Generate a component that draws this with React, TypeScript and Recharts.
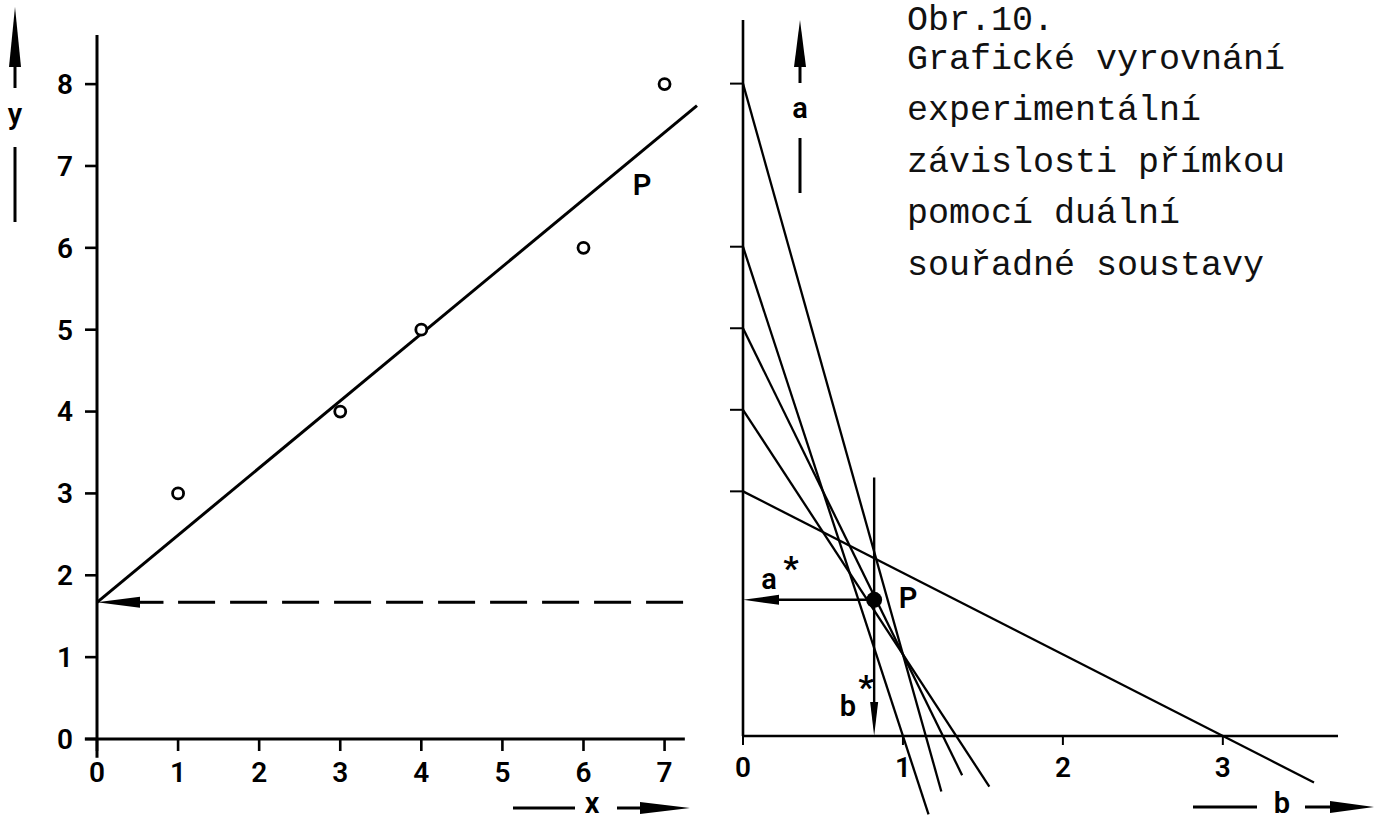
import React from 'react';
import { ComposedChart, XAxis, YAxis, Scatter, ReferenceLine } from 'recharts';

// measured points (x, y)
const obsX = [1, 3, 4, 6, 7];
const obsY = [3, 4, 5, 6, 8];

const xTicks = [0, 1, 2, 3, 4, 5, 6, 7];
const yTicks = [0, 1, 2, 3, 4, 5, 6, 7, 8];
const bTicks = [0, 1, 2, 3];

// graphical solution: intersection P in the dual plane
const aStar = 1.67;
const bStar = 0.82;
const bGuideTop = 3.17;
const fitEndX = 7.4;

// where each dual line a = y - x*b stops below the b axis (same order as the points)
const dualEndB = [3.57, 1.54, 1.37, 1.16, 1.24];

const titleLines = [
  'Obr.10.',
  'Grafické vyrovnání',
  'experimentální',
  'závislosti přímkou',
  'pomocí duální',
  'souřadné soustavy',
];

const points = obsX.map((x, i) => ({ x, y: obsY[i] }));
const solution = [{ b: bStar, a: aStar }];

const SANS = 'Roboto, "DejaVu Sans", sans-serif';
const MONO = '"Liberation Mono", "DejaVu Sans Mono", monospace';
const INK = '#000';

const tickText = { fill: INK, fontSize: 28, fontFamily: SANS, fontWeight: 600 };

const OpenRing = (props: any) => (
  <circle cx={props.cx} cy={props.cy} r={5.5} fill="#fff" stroke={INK} strokeWidth={2.8} />
);

const SolidDot = (props: any) => <circle cx={props.cx} cy={props.cy} r={8} fill={INK} />;

// line with a filled arrowhead at its second end point
const arrowLine = (head: number, width: number, sw: number) => (props: any) => {
  const { x1, y1, x2, y2 } = props;
  const dx = x2 - x1;
  const dy = y2 - y1;
  const len = Math.hypot(dx, dy) || 1;
  const ux = dx / len;
  const uy = dy / len;
  const bx = x2 - ux * head;
  const by = y2 - uy * head;
  const px = (-uy * width) / 2;
  const py = (ux * width) / 2;
  return (
    <g>
      <line x1={x1} y1={y1} x2={bx} y2={by} stroke={INK} strokeWidth={sw} />
      <polygon points={`${x2},${y2} ${bx + px},${by + py} ${bx - px},${by - py}`} fill={INK} />
    </g>
  );
};

const LeftPanel = () => (
  <ComposedChart width={720} height={823} margin={{ top: 35, right: 23, bottom: 54, left: 37 }} data={points}>
    <XAxis
      type="number"
      dataKey="x"
      domain={[0, fitEndX]}
      ticks={xTicks}
      interval={0}
      height={30}
      axisLine={false}
      tickSize={12}
      tickMargin={11}
      tickLine={{ stroke: INK, strokeWidth: 2.6 }}
      tick={tickText}
    />
    <YAxis
      type="number"
      dataKey="y"
      domain={[0, 8.6]}
      ticks={yTicks}
      interval={0}
      width={60}
      axisLine={false}
      tickSize={12}
      tickMargin={12}
      tickLine={{ stroke: INK, strokeWidth: 2.6 }}
      tick={tickText}
    />
    {/* axes, drawn a little past the origin */}
    <ReferenceLine segment={[{ x: -0.15, y: 0 }, { x: 7.25, y: 0 }]} ifOverflow="visible" stroke={INK} strokeWidth={3} />
    <ReferenceLine segment={[{ x: 0, y: -0.23 }, { x: 0, y: 8.6 }]} ifOverflow="visible" stroke={INK} strokeWidth={3} />
    {/* fitted line y = a* + b* x */}
    <ReferenceLine
      segment={[{ x: 0, y: aStar }, { x: fitEndX, y: aStar + bStar * fitEndX }]}
      ifOverflow="visible"
      stroke={INK}
      strokeWidth={3}
    />
    {/* intercept read back onto the y axis */}
    <ReferenceLine
      segment={[{ x: 1.0, y: aStar }, { x: 7.25, y: aStar }]}
      ifOverflow="visible"
      stroke={INK}
      strokeWidth={3}
      strokeDasharray="37 15"
    />
    <ReferenceLine
      segment={[{ x: 0.82, y: aStar }, { x: 0, y: aStar }]}
      ifOverflow="visible"
      shape={arrowLine(43, 11, 3)}
    />
    <Scatter data={points} dataKey="y" shape={OpenRing} isAnimationActive={false} />
  </ComposedChart>
);

const RightPanel = () => (
  <ComposedChart width={685} height={823} margin={{ top: 20, right: 47, bottom: 57, left: 13 }}>
    <XAxis
      type="number"
      dataKey="b"
      domain={[0, 3.72]}
      ticks={bTicks}
      interval={0}
      height={30}
      axisLine={{ stroke: INK, strokeWidth: 2.6 }}
      tickSize={9}
      tickMargin={12}
      tickLine={{ stroke: INK, strokeWidth: 2 }}
      tick={tickText}
    />
    <YAxis
      type="number"
      dataKey="a"
      domain={[0, 8.78]}
      ticks={obsY}
      interval={0}
      width={30}
      axisLine={{ stroke: INK, strokeWidth: 2.6 }}
      tickSize={13}
      tickLine={{ stroke: INK, strokeWidth: 2 }}
      tickFormatter={() => ''}
    />
    {/* one dual line a = y - x*b per measured point */}
    {obsX.map((x, i) => (
      <ReferenceLine
        key={i}
        segment={[{ x: 0, y: obsY[i] }, { x: dualEndB[i], y: obsY[i] - x * dualEndB[i] }]}
        ifOverflow="visible"
        stroke={INK}
        strokeWidth={2.3}
      />
    ))}
    <ReferenceLine
      segment={[{ x: bStar, y: bGuideTop }, { x: bStar, y: 0 }]}
      ifOverflow="visible"
      shape={arrowLine(34, 8, 2.4)}
    />
    <ReferenceLine
      segment={[{ x: bStar, y: aStar }, { x: 0, y: aStar }]}
      ifOverflow="visible"
      shape={arrowLine(36, 10, 2.4)}
    />
    <Scatter data={solution} dataKey="a" shape={SolidDot} isAnimationActive={false} />
  </ComposedChart>
);

const labelStyle = { fill: INK, fontFamily: SANS, fontWeight: 600, fontSize: 29 } as const;

const Annotations = () => (
  <svg width={1385} height={823} style={{ position: 'absolute', left: 0, top: 0, pointerEvents: 'none' }}>
    {/* y axis caption */}
    <polygon points="15,7 9,67 21,67" fill={INK} />
    <line x1={15} y1={66} x2={15} y2={88} stroke={INK} strokeWidth={3} />
    <text x={15} y={124} textAnchor="middle" {...labelStyle}>y</text>
    <line x1={15} y1={147} x2={15} y2={222} stroke={INK} strokeWidth={3} />

    {/* a axis caption */}
    <polygon points="800,20 794,67 806,67" fill={INK} />
    <line x1={800} y1={66} x2={800} y2={83} stroke={INK} strokeWidth={3} />
    <text x={800} y={118} textAnchor="middle" {...labelStyle}>a</text>
    <line x1={800} y1={138} x2={800} y2={193} stroke={INK} strokeWidth={3} />

    {/* x axis caption */}
    <line x1={513} y1={808} x2={575} y2={808} stroke={INK} strokeWidth={3} />
    <text x={592} y={813} textAnchor="middle" {...labelStyle}>x</text>
    <line x1={617} y1={808} x2={645} y2={808} stroke={INK} strokeWidth={3} />
    <polygon points="690,808 640,802 640,814" fill={INK} />

    {/* b axis caption */}
    <line x1={1193} y1={807} x2={1257} y2={807} stroke={INK} strokeWidth={3} />
    <text x={1282} y={813} textAnchor="middle" {...labelStyle}>b</text>
    <line x1={1305} y1={807} x2={1335} y2={807} stroke={INK} strokeWidth={3} />
    <polygon points="1374,807 1330,801 1330,813" fill={INK} />

    {/* point labels */}
    <text x={642} y={195} textAnchor="middle" {...labelStyle}>P</text>
    <text x={908} y={608} textAnchor="middle" {...labelStyle}>P</text>
    <text x={769} y={589} textAnchor="middle" {...labelStyle}>a</text>
    <text x={791} y={580} textAnchor="middle" {...labelStyle} fontSize={34} fontWeight={700}>*</text>
    <text x={848} y={716} textAnchor="middle" {...labelStyle}>b</text>
    <text x={866} y={699} textAnchor="middle" {...labelStyle} fontSize={34} fontWeight={700}>*</text>

    {/* caption */}
    {titleLines.map((t, i) => (
      <text key={i} x={907} y={i === 0 ? 30 : 17 + i * 51.6} fill="#111" fontFamily={MONO} fontSize={35}>
        {t}
      </text>
    ))}
  </svg>
);

export default function App() {
  return (
    <div style={{ position: 'absolute', left: 0, top: 0, width: 1385, height: 823, background: '#fff', overflow: 'hidden' }}>
      <div style={{ position: 'absolute', left: 0, top: 0 }}>
        <LeftPanel />
      </div>
      <div style={{ position: 'absolute', left: 700, top: 0 }}>
        <RightPanel />
      </div>
      <Annotations />
    </div>
  );
}
